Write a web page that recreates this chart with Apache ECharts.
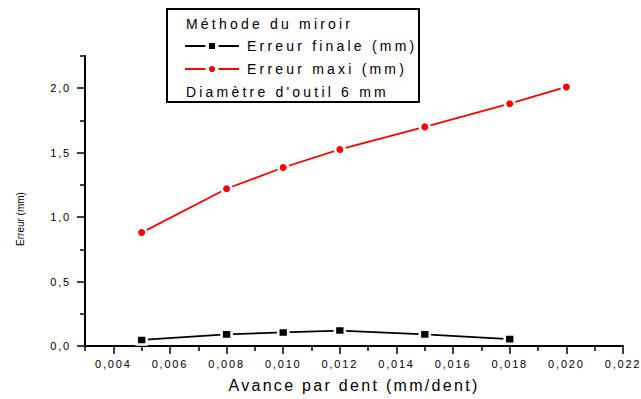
<!DOCTYPE html>
<html>
<head>
<meta charset="utf-8">
<script src="https://cdn.jsdelivr.net/npm/echarts@6/dist/echarts.min.js"></script>
<style>
  html, body { margin: 0; padding: 0; background: #fff; }
  #chart { width: 641px; height: 399px; }
  /* Origin-style wide letter spacing, per font size */
  #chart text[style*="11px"] { letter-spacing: 1.8px; }
  #chart text[style*="14px"] { letter-spacing: 3.2px; }
  #chart text[style*="16px"] { letter-spacing: 2.3px; }
</style>
</head>
<body>
<div id="chart"></div>
<script>
// ---- data ----
const seriesNames = ['Erreur finale (mm)', 'Erreur maxi (mm)'];
const avanceFinale = [0.005, 0.008, 0.010, 0.012, 0.015, 0.018];
const erreurFinale = [0.047, 0.09, 0.105, 0.12, 0.09, 0.053];
const avanceMaxi = [0.005, 0.008, 0.010, 0.012, 0.015, 0.018, 0.020];
const erreurMaxi = [0.88, 1.22, 1.385, 1.525, 1.70, 1.88, 2.01];

const xMajorTicks = [0.004, 0.006, 0.008, 0.010, 0.012, 0.014, 0.016, 0.018, 0.020, 0.022];
const xMinorTicks = [0.003, 0.005, 0.007, 0.009, 0.011, 0.013, 0.015, 0.017, 0.019, 0.021];
const yMajorTicks = [0, 0.5, 1.0, 1.5, 2.0];
const yMinorTicks = [0.25, 0.75, 1.25, 1.75, 2.25];

const legendTitle = 'Méthode du miroir';
const legendNote = "Diamètre d'outil 6 mm";
const xTitle = 'Avance par dent (mm/dent)';
const yTitle = 'Erreur (mm)';

const FONT = 'Liberation Sans, Arial, sans-serif';
const xMin = 0.003, xMax = 0.022, yMin = 0, yMax = 2.25;

const chart = echarts.init(document.getElementById('chart'), null, { renderer: 'svg' });

const baseX = { type: 'value', min: xMin, max: xMax, gridIndex: 0, position: 'bottom', offset: 0, splitLine: { show: false } };
const baseY = { type: 'value', min: yMin, max: yMax, gridIndex: 0, position: 'left', offset: 0, splitLine: { show: false } };

chart.setOption({
  animation: false,
  backgroundColor: '#fff',
  grid: { left: 85, top: 56, width: 538, height: 290, containLabel: false },
  xAxis: [
    Object.assign({}, baseX, {
      name: xTitle,
      nameLocation: 'middle',
      nameGap: 31,
      nameTextStyle: { fontFamily: FONT, fontSize: 16, color: '#000' },
      axisLine: { show: true, onZero: false, lineStyle: { color: '#000', width: 2 } },
      axisTick: { show: true, inside: false, length: 8, customValues: xMajorTicks, lineStyle: { color: '#000', width: 1.5 } },
      axisLabel: {
        show: true, margin: 12, customValues: xMajorTicks,
        fontFamily: FONT, fontSize: 11, color: '#000',
        formatter: v => v.toFixed(3).replace('.', ',')
      }
    }),
    Object.assign({}, baseX, {
      axisLine: { show: false },
      axisTick: { show: true, inside: false, length: 5, customValues: xMinorTicks, lineStyle: { color: '#000', width: 1.5 } },
      axisLabel: { show: false }
    })
  ],
  yAxis: [
    Object.assign({}, baseY, {
      axisLine: { show: true, onZero: false, lineStyle: { color: '#000', width: 2 } },
      axisTick: { show: true, inside: false, length: 8, customValues: yMajorTicks, lineStyle: { color: '#000', width: 1.5 } },
      axisLabel: {
        show: true, margin: 14, customValues: yMajorTicks,
        fontFamily: FONT, fontSize: 11, color: '#000',
        formatter: v => v.toFixed(1).replace('.', ',')
      }
    }),
    Object.assign({}, baseY, {
      axisLine: { show: false },
      axisTick: { show: true, inside: false, length: 5, customValues: yMinorTicks, lineStyle: { color: '#000', width: 1.5 } },
      axisLabel: { show: false }
    })
  ],
  legend: {
    show: true,
    orient: 'vertical',
    left: 184,
    top: 39,
    padding: 0,
    itemWidth: 54,
    itemHeight: 12,
    itemGap: 9,
    selectedMode: false,
    itemStyle: { borderColor: '#fff', borderWidth: 3.5 },
    textStyle: { fontFamily: FONT, fontSize: 14, color: '#000', padding: [0, 0, 0, 3] },
    data: seriesNames
  },
  graphic: [
    { type: 'rect', shape: { x: 167, y: 9, width: 252, height: 93 }, style: { fill: 'none', stroke: '#000', lineWidth: 2 }, z: 10 },
    { type: 'text', x: 186, y: 24, style: { text: legendTitle, font: '14px ' + FONT, fill: '#000', textAlign: 'left', textVerticalAlign: 'middle' }, z: 10 },
    { type: 'text', x: 186, y: 92, style: { text: legendNote, font: '14px ' + FONT, fill: '#000', textAlign: 'left', textVerticalAlign: 'middle' }, z: 10 },
    { type: 'text', x: 20, y: 219, rotation: Math.PI / 2, style: { text: yTitle, font: '10px ' + FONT, fill: '#000', textAlign: 'center', textVerticalAlign: 'middle' }, z: 10 }
  ],
  series: [
    {
      name: seriesNames[0],
      type: 'line',
      xAxisIndex: 0, yAxisIndex: 0,
      data: avanceFinale.map((x, i) => [x, erreurFinale[i]]),
      symbol: 'rect',
      symbolSize: [10, 9],
      showAllSymbol: true,
      lineStyle: { color: '#000', width: 1.8 },
      itemStyle: { color: '#000', borderColor: '#fff', borderWidth: 2.5 },
      z: 3
    },
    {
      name: seriesNames[1],
      type: 'line',
      xAxisIndex: 0, yAxisIndex: 0,
      data: avanceMaxi.map((x, i) => [x, erreurMaxi[i]]),
      symbol: 'circle',
      symbolSize: 9.5,
      showAllSymbol: true,
      lineStyle: { color: '#ff0000', width: 1.8 },
      itemStyle: { color: '#ff0000', borderColor: '#fff', borderWidth: 2.5 },
      z: 3
    }
  ]
});
</script>
</body>
</html>
